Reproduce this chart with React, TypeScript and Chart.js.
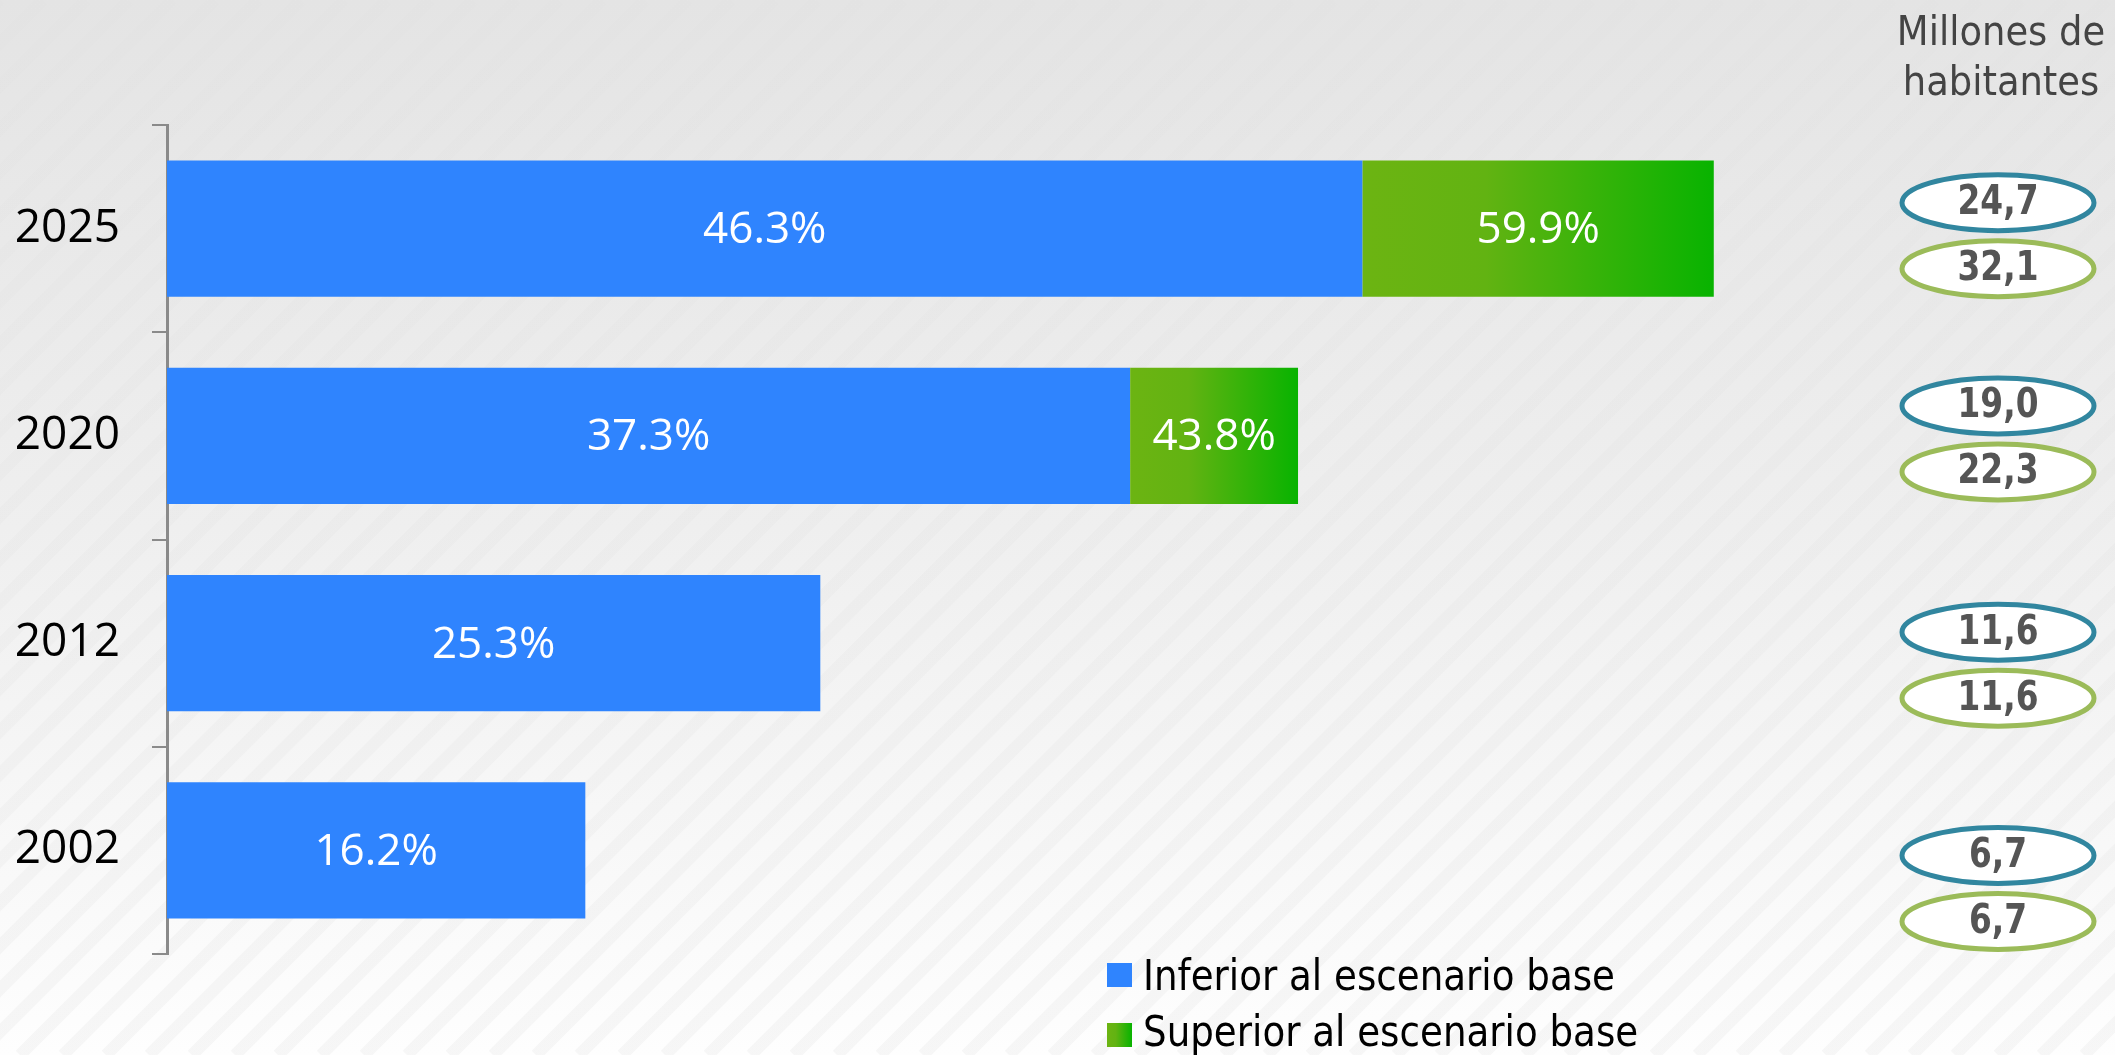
import React, { useEffect, useRef } from "react";
import { Chart, registerables } from "chart.js";

Chart.register(...registerables);

// ---- Data ----
const YEARS = ["2025", "2020", "2012", "2002"];
const INFERIOR = [46.3, 37.3, 25.3, 16.2];
const SUPERIOR: (number | null)[] = [59.9, 43.8, null, null];
const POP_INFERIOR = ["24,7", "19,0", "11,6", "6,7"];
const POP_SUPERIOR = ["32,1", "22,3", "11,6", "6,7"];
const SERIES_LABELS = ["Inferior al escenario base", "Superior al escenario base"];
const UNIT_TITLE = ["Millones de", "habitantes"];

// ---- Styling / layout constants ----
const W = 2115;
const H = 1055;
const BLUE = "#2f84fe";
const GREEN_L = "#6cb412";
const GREEN_R = "#08b300";
const TEAL = "#31869f";
const OLIVE = "#9bbb59";
const OVAL_SHIFT = [7, 3, 22, 38];

function greenGradient(ctx: CanvasRenderingContext2D, x0: number, x1: number) {
  const g = ctx.createLinearGradient(x0, 0, x1, 0);
  g.addColorStop(0, GREEN_L);
  g.addColorStop(0.35, "#62b312");
  g.addColorStop(1, GREEN_R);
  return g;
}

const backgroundPlugin = {
  id: "bg",
  beforeDraw(chart: any) {
    const ctx = chart.ctx as CanvasRenderingContext2D;
    ctx.save();
    const g = ctx.createLinearGradient(0, 0, 0, H);
    g.addColorStop(0, "#e4e4e4");
    g.addColorStop(0.5, "#efefef");
    g.addColorStop(1, "#fefefe");
    ctx.fillStyle = g;
    ctx.fillRect(0, 0, W, H);
    // faint diagonal stripes, stronger near the bottom
    const sg = ctx.createLinearGradient(0, 0, 0, H);
    sg.addColorStop(0, "rgba(200,200,200,0.03)");
    sg.addColorStop(1, "rgba(200,200,200,0.14)");
    ctx.strokeStyle = sg;
    ctx.lineWidth = 12;
    for (let x = -H; x < W + H; x += 43) {
      ctx.beginPath();
      ctx.moveTo(x, H);
      ctx.lineTo(x + H, 0);
      ctx.stroke();
    }
    ctx.restore();
  },
};

const barLabelPlugin = {
  id: "barLabels",
  afterDatasetsDraw(chart: any) {
    const ctx = chart.ctx as CanvasRenderingContext2D;
    ctx.save();
    ctx.fillStyle = "#ffffff";
    ctx.font = "44px 'Open Sans'";
    ctx.textAlign = "center";
    ctx.textBaseline = "middle";
    chart.data.datasets.forEach((ds: any, di: number) => {
      const meta = chart.getDatasetMeta(di);
      meta.data.forEach((el: any, i: number) => {
        const raw = ds.data[i];
        if (raw == null) return;
        const v = Array.isArray(raw) ? raw[1] : raw;
        const { x, base, y } = el.getProps(["x", "base", "y"], true);
        ctx.fillText(v.toFixed(1) + "%", (x + base) / 2, y + 2);
      });
    });
    ctx.restore();
  },
};

function fillTextScaled(
  ctx: CanvasRenderingContext2D,
  text: string,
  x: number,
  y: number,
  sx: number
) {
  ctx.save();
  ctx.translate(x, y);
  ctx.scale(sx, 1);
  ctx.fillText(text, 0, 0);
  ctx.restore();
}

const sidePlugin = {
  id: "side",
  afterDraw(chart: any) {
    const ctx = chart.ctx as CanvasRenderingContext2D;
    const yScale = chart.scales.y;
    const cx = 1998;
    ctx.save();
    // unit title
    ctx.fillStyle = "#444444";
    ctx.font = "41px 'DejaVu Sans Condensed', 'DejaVu Sans'";
    ctx.textAlign = "center";
    ctx.textBaseline = "alphabetic";
    ctx.fillText(UNIT_TITLE[0], 2001, 45);
    ctx.fillText(UNIT_TITLE[1], 2001, 95);

    const drawOval = (cy: number, color: string, text: string) => {
      ctx.beginPath();
      ctx.ellipse(cx, cy, 96, 28, 0, 0, Math.PI * 2);
      ctx.fillStyle = "#ffffff";
      ctx.fill();
      ctx.lineWidth = 5;
      ctx.strokeStyle = color;
      ctx.stroke();
      ctx.fillStyle = "#555555";
      ctx.font = "bold 40px 'DejaVu Sans'";
      ctx.textAlign = "center";
      ctx.textBaseline = "middle";
      fillTextScaled(ctx, text, cx, cy + 1, 0.82);
    };
    YEARS.forEach((_, i) => {
      const c = yScale.getPixelForValue(i) + OVAL_SHIFT[i];
      drawOval(c - 33, TEAL, POP_INFERIOR[i]);
      drawOval(c + 33, OLIVE, POP_SUPERIOR[i]);
    });

    // legend
    ctx.font = "43px 'DejaVu Sans Condensed', 'DejaVu Sans'";
    ctx.textAlign = "left";
    ctx.textBaseline = "alphabetic";
    const lx = 1107;
    const rows = [
      { y: 963, base: 990 },
      { y: 1023, base: 1046 },
    ];
    const wNat = ctx.measureText(SERIES_LABELS[0]).width;
    rows.forEach((r, i) => {
      ctx.fillStyle = i === 0 ? BLUE : greenGradient(ctx, lx, lx + 25);
      ctx.fillRect(lx, r.y, 25, 24);
      ctx.fillStyle = "#000000";
      fillTextScaled(ctx, SERIES_LABELS[i], 1143, r.base, 472 / wNat);
    });
    ctx.restore();
  },
};

export default function App() {
  const ref = useRef<HTMLCanvasElement | null>(null);

  useEffect(() => {
    if (!ref.current) return;
    const chart = new Chart(ref.current, {
      type: "bar",
      data: {
        labels: YEARS,
        datasets: [
          {
            label: SERIES_LABELS[0],
            data: INFERIOR.map((v) => [0, v]) as any,
            backgroundColor: BLUE,
            grouped: false,
            order: 2,
          } as any,
          {
            label: SERIES_LABELS[1],
            data: SUPERIOR.map((v, i) => (v == null ? null : [INFERIOR[i], v])) as any,
            backgroundColor: (c: any) => {
              const chartRef = c.chart;
              const xs = chartRef.scales && chartRef.scales.x;
              const raw = c.raw;
              if (!xs || !raw) return GREEN_L;
              const x0 = xs.getPixelForValue(raw[0]);
              const x1 = xs.getPixelForValue(raw[1]);
              if (!isFinite(x0) || !isFinite(x1)) return GREEN_L;
              return greenGradient(chartRef.ctx, x0, x1);
            },
            grouped: false,
            order: 1,
          } as any,
        ],
      },
      options: {
        indexAxis: "y",
        responsive: false,
        animation: false,
        devicePixelRatio: 1,
        layout: { padding: { left: 0, top: 125, bottom: 101, right: 347 } },
        datasets: {
          bar: { barPercentage: 0.657, categoryPercentage: 1, borderWidth: 0 },
        },
        plugins: {
          legend: { display: false },
          tooltip: { enabled: false },
        },
        scales: {
          x: {
            display: false,
            min: 0,
            max: 62,
          },
          y: {
            afterFit: (s: any) => {
              s.width = 167;
            },
            grid: {
              offset: true,
              drawOnChartArea: false,
              drawTicks: true,
              tickLength: 15,
              color: "#8a8a8a",
              lineWidth: 2,
            },
            border: { display: true, color: "#8a8a8a", width: 3 },
            ticks: {
              padding: 32,
              color: "#000000",
              font: { family: "'Open Sans'", size: 46 },
            },
          },
        },
      },
      plugins: [backgroundPlugin, barLabelPlugin, sidePlugin],
    });
    return () => chart.destroy();
  }, []);

  return (
    <div style={{ position: "fixed", left: 0, top: 0, width: W, height: H }}>
      <canvas ref={ref} width={W} height={H} style={{ width: W, height: H, display: "block" }} />
    </div>
  );
}
